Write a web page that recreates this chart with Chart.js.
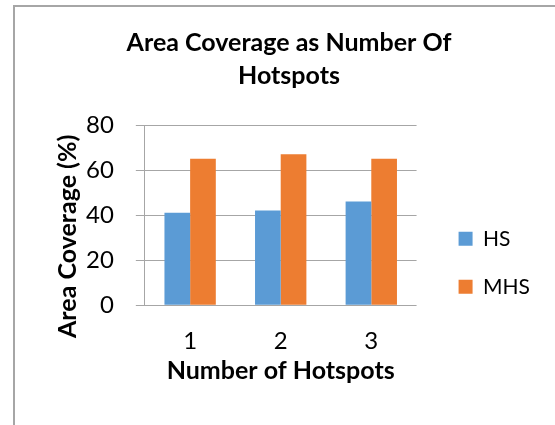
<!DOCTYPE html>
<html>
<head>
<meta charset="utf-8">
<script src="https://cdn.jsdelivr.net/npm/chart.js@4"></script>
<style>
  body { margin: 0; background: #fff; }
  .wrap { position: relative; width: 555px; height: 425px; overflow: hidden; }
  .frame { position: absolute; left: 13px; top: 5px; right: -10px; bottom: -10px;
           border-left: 2px solid #a6a6a6; border-top: 2px solid #a6a6a6; }
  canvas { position: absolute; left: 0; top: 0; }
</style>
</head>
<body>
<div class="wrap">
  <div class="frame"></div>
  <canvas id="myChart" width="555" height="425"></canvas>
</div>
<script>
const categories = ['1', '2', '3'];
const hsValues = [41, 42, 46];
const mhsValues = [65, 67, 65];
const yTicks = [0, 20, 40, 60, 80];

const fontName = 'Lato, "Open Sans", sans-serif';
const blue = '#5b9bd5';
const orange = '#ed7d31';
const gridGray = '#a6a6a6';

Chart.defaults.font.family = fontName;
Chart.defaults.color = '#000';

// legend sits right of the plot and a bit below its middle, like the original
const legendShift = {
  id: 'legendShift',
  afterLayout(chart) {
    const lg = chart.legend;
    lg.left += 15; lg.right += 15;
    lg.top += 70; lg.bottom += 70;
  }
};

const ctx = document.getElementById('myChart');
const myChart = new Chart(ctx, {
  type: 'bar',
  data: {
    labels: categories,
    datasets: [{
      label: 'HS',
      data: hsValues,
      backgroundColor: blue,
      borderWidth: 0,
      categoryPercentage: 0.567,
      barPercentage: 1
    }, {
      label: 'MHS',
      data: mhsValues,
      backgroundColor: orange,
      borderWidth: 0,
      categoryPercentage: 0.567,
      barPercentage: 1
    }]
  },
  options: {
    responsive: false,
    animation: false,
    layout: {
      padding: { left: 53, right: 30, top: 0, bottom: 39.5 }
    },
    scales: {
      x: {
        grid: { display: false, drawTicks: false },
        border: { display: false },
        ticks: { font: { size: 24 }, padding: 21.5 },
        title: {
          display: true,
          text: 'Number of Hotspots',
          font: { size: 25, weight: 'bold' },
          padding: { top: -21.5, bottom: 0 }
        }
      },
      y: {
        min: 0,
        max: yTicks[yTicks.length - 1],
        afterBuildTicks: (axis) => { axis.ticks = yTicks.map(v => ({ value: v })); },
        grid: { color: gridGray, lineWidth: 1, tickLength: 9 },
        border: { display: true, color: gridGray, width: 1 },
        ticks: { font: { size: 24 }, padding: 22 },
        title: {
          display: true,
          text: 'Area Coverage (%)       ',
          font: { size: 25, weight: 'bold' },
          padding: { top: 0, bottom: -19 }
        }
      }
    },
    plugins: {
      title: {
        display: true,
        text: ['Area Coverage as Number Of', 'Hotspots'],
        font: { size: 25, weight: 'bold', lineHeight: 1.32 },
        padding: { top: 26, bottom: 33 }
      },
      legend: {
        position: 'right',
        labels: {
          boxWidth: 14,
          boxHeight: 14,
          padding: 27,
          font: { size: 21 }
        }
      },
      tooltip: { enabled: false }
    }
  },
  plugins: [legendShift]
});
</script>
</body>
</html>
